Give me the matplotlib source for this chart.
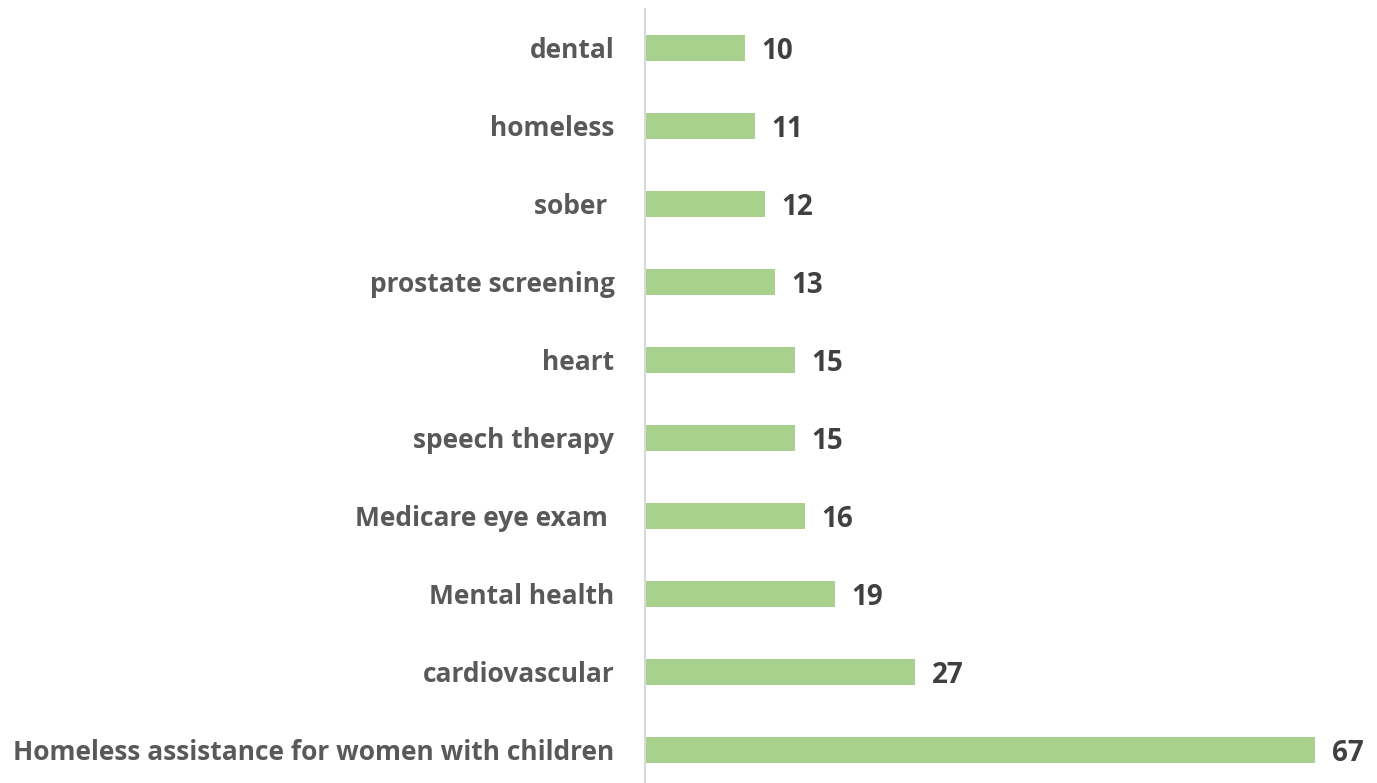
import matplotlib
matplotlib.use("Agg")
import matplotlib.pyplot as plt

categories = ["dental", "homeless", "sober ", "prostate screening", "heart",
              "speech therapy", "Medicare eye exam ", "Mental health",
              "cardiovascular", "Homeless assistance for women with children"]
values = [10, 11, 12, 13, 15, 15, 16, 19, 27, 67]

plt.rcParams['font.family'] = ['Open Sans', 'DejaVu Sans']

fig = plt.figure(figsize=(13.77, 7.83), dpi=100)
W, H = 1377, 783
left = 645 / W
# category spacing 78 px, first center at y=48 from top
top_px = 9
bottom_px = 9 + 78 * 10
ax = fig.add_axes([left, 1 - bottom_px / H, 1 - left, (bottom_px - top_px) / H])

ypos = list(range(len(categories)))
ax.barh(ypos, values, height=0.345, color="#A9D18E", left=0)
ax.set_ylim(len(categories) - 0.5, -0.5)
ax.set_xlim(0, (W - 645) / 10.0)

for s in ["top", "right", "bottom"]:
    ax.spines[s].set_visible(False)
ax.spines["left"].set_color("#D9D9D9")
ax.spines["left"].set_linewidth(1.5)
ax.set_xticks([])
ax.set_yticks(ypos)
ax.set_yticklabels(categories, fontsize=19, fontweight="bold", color="#595959")
ax.tick_params(axis="y", length=0, pad=22)

for y, v in zip(ypos, values):
    ax.annotate(str(v), xy=(v, y), xytext=(12, -2.5), textcoords="offset points",
                ha="left", va="center", fontsize=20, fontweight="bold", color="#404040")

fig.savefig("out.png", dpi=100)
